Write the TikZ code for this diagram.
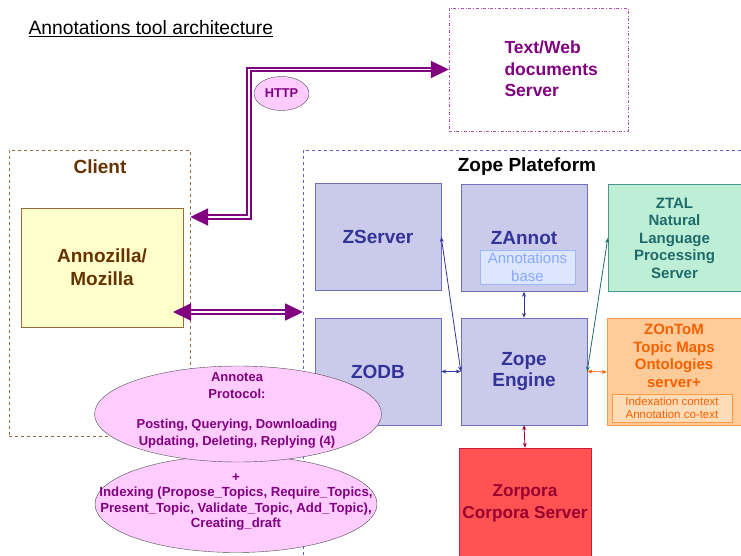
\documentclass[tikz,border=0pt]{standalone}
\usepackage{fontspec}
\setmainfont{Liberation Sans}
\usetikzlibrary{shapes.geometric,arrows.meta}
\definecolor{purp}{HTML}{800080}
\definecolor{pinkfill}{HTML}{FFCCFF}
\definecolor{zfill}{HTML}{CACAEA}
\definecolor{zdraw}{HTML}{7070B8}
\definecolor{ztext}{HTML}{333399}
\definecolor{zdash}{HTML}{5C5CC8}
\definecolor{talfill}{HTML}{BDEFD6}
\definecolor{taldraw}{HTML}{4A9A8A}
\definecolor{taltext}{HTML}{1F6B6B}
\definecolor{ontfill}{HTML}{FFCC99}
\definecolor{ontdraw}{HTML}{FF9944}
\definecolor{onttext}{HTML}{F56000}
\definecolor{ontinner}{HTML}{FFDCB8}
\definecolor{corfill}{HTML}{FF5252}
\definecolor{cordraw}{HTML}{C8203C}
\definecolor{cortext}{HTML}{990030}
\definecolor{mozfill}{HTML}{FFFFCC}
\definecolor{mozdraw}{HTML}{9A6A3A}
\definecolor{moztext}{HTML}{663300}
\definecolor{basefill}{HTML}{DDE6FF}
\definecolor{basedraw}{HTML}{99B8FF}
\definecolor{basetext}{HTML}{8AAAFF}
\definecolor{docdraw}{HTML}{B050B0}

\begin{document}
\begin{tikzpicture}[
	x=1pt, y=-1pt,
	big/.style={font=\bfseries\fontsize{19}{21.5}\selectfont},
	mid/.style={font=\bfseries\fontsize{15}{17.5}\selectfont},
	small/.style={font=\bfseries\fontsize{13}{17}\selectfont},
	zbox/.style={draw=zdraw, fill=zfill, text=ztext, big, align=center, inner sep=0pt, minimum width=126pt, minimum height=107pt},
	pipe/.style={draw=purp, double=white, line width=1.8pt, double distance=1.8pt, {Triangle[length=18pt,width=17pt]}-{Triangle[length=18pt,width=17pt]}},
	link/.style={line width=0.8pt, {Stealth[length=5pt,width=4pt]}-{Stealth[length=5pt,width=4pt]}},
	bubble/.style={ellipse, draw=black!70, fill=pinkfill, inner sep=0pt}]
\useasboundingbox (0,0) rectangle (741,556);
\node (title) [anchor=base west, font=\fontsize{19.3}{21}\selectfont] at (25,35) {\underline{Annotations tool architecture}};

\node (docs) [draw=docdraw, dash dot, minimum width=179pt, minimum height=123pt, inner sep=0pt] at (538.5,69.5) {};
\node (docslabel) [anchor=west, align=left, text=purp, font=\bfseries\fontsize{17.5}{21.5}\selectfont] at (501,69) {Text/Web\\documents\\Server};

\node (client) [draw=mozdraw, dashed, minimum width=181pt, minimum height=286pt, inner sep=0pt] at (99.5,293) {};
\node (clientlabel) [big, text=moztext] at (100,167) {Client};
\node (moz) [draw=mozdraw, fill=mozfill, text=moztext, big, align=center, minimum width=162pt, minimum height=119pt, inner sep=0pt] at (102,267.5) {Annozilla/\\[1.5pt]Mozilla};

\node (zope) [draw=zdash, dashed, anchor=north west, minimum width=460pt, minimum height=430pt, inner sep=0pt] at (303,150) {};
\node (zopelabel) [big] at (527,167) {Zope Plateform};

\node (zserver) [zbox] at (378,237) {ZServer};
\node (zannot) [zbox] at (524,238) {ZAnnot};
\node (annbase) [draw=basedraw, fill=basefill, text=basetext, align=center, font=\fontsize{15}{18}\selectfont, minimum width=95pt, minimum height=34pt, inner sep=0pt] at (527.5,267) {Annotations\\base};
\node (zodb) [zbox] at (378,371.5) {ZODB};
\node (engine) [zbox] at (524,371.5) {Zope\\Engine};
\node (ztal) [zbox, draw=taldraw, fill=talfill, text=taltext, mid, minimum width=133pt] at (674.5,238) {ZTAL\\Natural\\Language\\Processing\\Server};
\node (ontom) [zbox, draw=ontdraw, fill=ontfill, minimum width=134pt] at (674,372) {};
\node (ontomlabel) [mid, text=onttext, align=center] at (674,356) {ZOnToM\\Topic Maps\\Ontologies\\server+};
\node (context) [draw=ontdraw, fill=ontinner, text=onttext, align=center, font=\fontsize{11.5}{13}\selectfont, minimum width=120pt, minimum height=28pt, inner sep=0pt] at (672,408) {Indexation context\\Annotation co-text};
\node (zorpora) [zbox, draw=cordraw, fill=corfill, text=cortext, font=\bfseries\fontsize{17.2}{22}\selectfont, minimum width=132pt, minimum height=110pt] at (525,503) {Zorpora\\Corpora Server};

\node (http) [bubble, minimum width=55pt, minimum height=34pt, text=purp, font=\bfseries\fontsize{12.8}{14}\selectfont] at (281.5,93.5) {HTTP};
\coordinate (mozin) at (173,312);
\draw[pipe] (docs.west) -| (249,217) -- (client.east |- 0,217);
\draw[pipe] (mozin) -- (zope.west |- mozin);

\draw[link, draw=ztext] (zserver.east) -- (engine.west);
\draw[link, draw=ztext] (zodb.east) -- (engine.west);
\draw[link, draw=ztext] (zannot.south) -- (engine.north);
\draw[link, draw=taltext] (ztal.west) -- (engine.east);
\draw[link, draw=onttext] (ontom.west) -- (engine.east);
\draw[link, draw=cortext] (engine.south) -- (zorpora.north);

\node (indexing) [bubble, minimum width=282pt, minimum height=97pt] at (236,504) {};
\node (annotea) [bubble, minimum width=287pt, minimum height=96pt] at (238,414) {};
\node (annotealabel) [small, text=purp, align=center] at (237,410) {Annotea\\Protocol:\\[13pt]Posting, Querying, Downloading\\Updating, Deleting, Replying (4)};
\node (indexinglabel) [text=purp, align=center, font=\bfseries\fontsize{13.2}{15.5}\selectfont] at (236,502) {+\\Indexing (Propose\_Topics, Require\_Topics,\\Present\_Topic, Validate\_Topic, Add\_Topic),\\Creating\_draft};
\end{tikzpicture}
\end{document}
